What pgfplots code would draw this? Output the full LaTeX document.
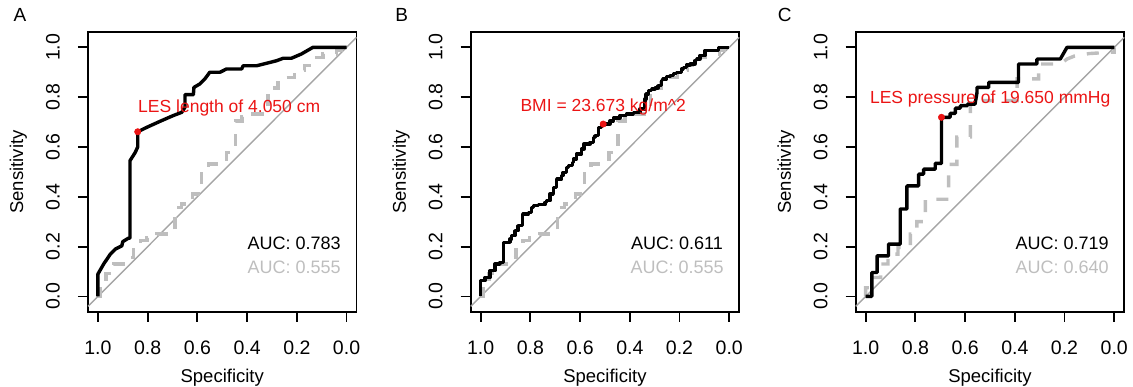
\documentclass[border=0pt]{standalone}
\usepackage{pgfplots}
\pgfplotsset{compat=1.18}
\usepackage{fontspec}
\setmainfont{Liberation Sans}
\definecolor{rgray}{RGB}{190,190,190}
\definecolor{dgray}{RGB}{165,165,165}
\definecolor{rred}{RGB}{235,20,20}

\pgfplotsset{every axis/.append style={line width=1.8pt}}
\pgfplotsset{rocax/.style={
  scale only axis, width=268.5pt, height=280pt,
  x dir=reverse, xmin=-0.04, xmax=1.04, ymin=-0.0625, ymax=1.0615,
  xtick={0,0.2,0.4,0.6,0.8,1}, ytick={0,0.2,0.4,0.6,0.8,1},
  tick align=outside, tick pos=left, major tick length=10pt,
  xtick style={draw=black, line width=1.8pt}, ytick style={draw=black, line width=1.8pt},
  tick label style={font=\fontsize{19.5}{21}\selectfont,
    /pgf/number format/assume math mode=true,
    /pgf/number format/fixed, /pgf/number format/fixed zerofill, /pgf/number format/precision=1},
  xticklabel style={anchor=center, yshift=-26pt},
  yticklabel style={xshift=-25pt, rotate=90, anchor=center},
  label style={font=\fontsize{18.5}{20}\selectfont},
  xlabel={Specificity}, ylabel={Sensitivity},
  xlabel style={at={(axis description cs:0.5,-0.235)}, anchor=center},
  ylabel style={at={(axis description cs:-0.259,0.5)}, anchor=center},
  clip=false,
}}
\pgfplotsset{diag/.style={dgray, line width=1.4pt},
  grayc/.style={rgray, line width=3.4pt, dash pattern=on 12pt off 12pt},
  blackc/.style={black, line width=3.4pt, line join=round},
  thr/.style={only marks, mark=*, mark size=3.2pt, rred, mark options={draw=rred, fill=rred, line width=0.5pt}}}
\newcommand{\rticks}{%
  \pgfplotsinvokeforeach{0,0.2,0.4,0.6,0.8,1}{%
    \draw[black, line width=1.8pt] (axis cs:##1,-0.0625) -- ++(0pt,-10pt);
    \draw[black, line width=1.8pt] (axis cs:1.04,##1) -- ++(-10pt,0pt);}}

\begin{document}
\begin{tikzpicture}
\path[use as bounding box] (0,0) rectangle (1133pt,387pt);

% ---------------- A ----------------
\begin{axis}[rocax, at={(88pt,75pt)}, anchor=south west]
\addplot[diag] coordinates {(1.04,-0.04) (-0.04,1.04)};
\addplot[grayc] coordinates {
(1,0) (0.99,0) (0.99,0.06) (0.967,0.06) (0.967,0.092) (0.937,0.092) (0.937,0.13)
(0.897,0.13) (0.897,0.157) (0.857,0.157) (0.857,0.2) (0.83,0.2) (0.83,0.224)
(0.803,0.224) (0.803,0.235) (0.763,0.235) (0.763,0.25) (0.69,0.25) (0.69,0.357)
(0.663,0.357) (0.663,0.371) (0.619,0.371) (0.619,0.411) (0.583,0.411) (0.583,0.505)
(0.556,0.505) (0.556,0.531) (0.483,0.531) (0.483,0.578) (0.447,0.578) (0.447,0.705)
(0.42,0.705) (0.42,0.72) (0.376,0.72) (0.376,0.732) (0.316,0.732) (0.316,0.837)
(0.275,0.837) (0.275,0.859) (0.249,0.859) (0.249,0.88) (0.209,0.88) (0.209,0.906)
(0.168,0.906) (0.168,0.926) (0.128,0.926) (0.128,0.96) (0.095,0.96) (0.095,0.973)
(0.04,0.973) (0.04,0.99) (0,0.99) (0,1)};
\addplot[blackc] coordinates {
(1.0,0) (1.0,0.09) (0.977,0.13) (0.95,0.17) (0.93,0.19) (0.904,0.203) (0.90,0.22)
(0.877,0.234) (0.871,0.234) (0.871,0.545) (0.85,0.578) (0.84,0.60) (0.84,0.661)
(0.803,0.679) (0.75,0.703) (0.697,0.726) (0.663,0.739) (0.65,0.759) (0.65,0.81)
(0.616,0.81) (0.614,0.839) (0.59,0.853) (0.57,0.873) (0.55,0.9) (0.509,0.9)
(0.483,0.913) (0.422,0.913) (0.416,0.926) (0.362,0.926) (0.282,0.946) (0.255,0.956)
(0.222,0.956) (0.182,0.973) (0.135,1.0) (0,1)};
\addplot[thr] coordinates {(0.84,0.661)};
\rticks
\node[rred, font=\fontsize{17.5}{20}\selectfont] at (axis cs:0.472,0.757) {LES length of 4.050 cm};
\node[font=\fontsize{18}{20}\selectfont] at (axis cs:0.211,0.214) {AUC: 0.783};
\node[rgray, font=\fontsize{18}{20}\selectfont] at (axis cs:0.211,0.116) {AUC: 0.555};
\node[font=\fontsize{19}{20}\selectfont] at (axis description cs:-0.253,1.061) {A};
\end{axis}

% ---------------- B ----------------
\begin{axis}[rocax, at={(470.7pt,75pt)}, anchor=south west]
\addplot[diag] coordinates {(1.04,-0.04) (-0.04,1.04)};
\addplot[grayc] coordinates {
(1,0) (0.99,0) (0.99,0.06) (0.967,0.06) (0.967,0.092) (0.937,0.092) (0.937,0.13)
(0.897,0.13) (0.897,0.157) (0.857,0.157) (0.857,0.2) (0.83,0.2) (0.83,0.224)
(0.803,0.224) (0.803,0.235) (0.763,0.235) (0.763,0.25) (0.69,0.25) (0.69,0.357)
(0.663,0.357) (0.663,0.371) (0.619,0.371) (0.619,0.411) (0.583,0.411) (0.583,0.505)
(0.556,0.505) (0.556,0.531) (0.483,0.531) (0.483,0.578) (0.447,0.578) (0.447,0.705)
(0.42,0.705) (0.42,0.72) (0.376,0.72) (0.376,0.732) (0.316,0.732) (0.316,0.837)
(0.275,0.837) (0.275,0.859) (0.249,0.859) (0.249,0.88) (0.209,0.88) (0.209,0.906)
(0.168,0.906) (0.168,0.926) (0.128,0.926) (0.128,0.96) (0.095,0.96) (0.095,0.973)
(0.04,0.973) (0.04,0.99) (0,0.99) (0,1)};
\addplot[blackc, const plot mark right] coordinates {
(1.0,0) (1.0,0.056) (0.983,0.063) (0.983,0.076) (0.962,0.076) (0.962,0.090) (0.942,0.103)
(0.942,0.116) (0.922,0.130) (0.909,0.137) (0.909,0.217) (0.882,0.217) (0.875,0.230)
(0.862,0.244) (0.862,0.264) (0.849,0.264) (0.849,0.284) (0.831,0.284) (0.831,0.324)
(0.808,0.331) (0.795,0.337) (0.788,0.357) (0.768,0.364) (0.741,0.368) (0.735,0.378)
(0.721,0.384) (0.721,0.404) (0.708,0.411) (0.708,0.431) (0.694,0.438) (0.694,0.465)
(0.674,0.471) (0.668,0.485) (0.654,0.498) (0.647,0.518) (0.630,0.525) (0.627,0.538)
(0.614,0.552) (0.614,0.565) (0.594,0.572) (0.584,0.592) (0.574,0.612) (0.560,0.612)
(0.547,0.618) (0.540,0.639) (0.527,0.645) (0.527,0.672) (0.513,0.679) (0.507,0.692)
(0.480,0.692) (0.466,0.705) (0.440,0.716) (0.413,0.726) (0.386,0.732) (0.359,0.739)
(0.339,0.752) (0.335,0.792) (0.326,0.813) (0.312,0.826) (0.299,0.833) (0.286,0.837)
(0.272,0.846) (0.268,0.866) (0.252,0.873) (0.239,0.882) (0.225,0.886) (0.212,0.896)
(0.192,0.90) (0.185,0.913) (0.172,0.920) (0.158,0.929) (0.138,0.933) (0.131,0.946)
(0.118,0.953) (0.098,0.967) (0.094,0.987) (0.044,0.987) (0.044,1) (0,1)};
\addplot[thr] coordinates {(0.507,0.692)};
\rticks
\node[rred, font=\fontsize{17.5}{20}\selectfont] at (axis cs:0.507,0.762) {BMI = 23.673 kg/m\textasciicircum{}2};
\node[font=\fontsize{18}{20}\selectfont] at (axis cs:0.21,0.214) {AUC: 0.611};
\node[rgray, font=\fontsize{18}{20}\selectfont] at (axis cs:0.21,0.116) {AUC: 0.555};
\node[font=\fontsize{19}{20}\selectfont] at (axis description cs:-0.257,1.061) {B};
\end{axis}

% ---------------- C ----------------
\begin{axis}[rocax, at={(855.7pt,75pt)}, anchor=south west]
\addplot[diag] coordinates {(1.04,-0.04) (-0.04,1.04)};
\addplot[grayc] coordinates {
(1,0) (1,0.035) (0.975,0.035) (0.975,0.076) (0.94,0.076) (0.94,0.13) (0.91,0.13)
(0.91,0.17) (0.87,0.17) (0.87,0.197) (0.82,0.197) (0.82,0.25) (0.794,0.25) (0.794,0.30)
(0.76,0.30) (0.76,0.39) (0.666,0.39) (0.666,0.53) (0.633,0.53) (0.633,0.64) (0.579,0.64)
(0.579,0.786) (0.391,0.786) (0.391,0.873) (0.304,0.873) (0.304,0.933) (0.217,0.933)
(0.19,0.953) (0.16,0.965) (0.10,0.975) (0.02,0.98) (0,0.98) (0,1)};
\addplot[blackc] coordinates {
(1.0,0) (0.975,0) (0.975,0.096) (0.954,0.096) (0.954,0.163) (0.908,0.163) (0.908,0.210)
(0.861,0.210) (0.861,0.351) (0.834,0.351) (0.834,0.444) (0.787,0.444) (0.787,0.491)
(0.767,0.491) (0.767,0.511) (0.720,0.511) (0.720,0.534) (0.695,0.534) (0.695,0.719)
(0.660,0.719) (0.660,0.735) (0.639,0.735) (0.639,0.756) (0.619,0.756) (0.619,0.766)
(0.59,0.766) (0.59,0.772) (0.56,0.772) (0.552,0.819) (0.552,0.839) (0.505,0.839)
(0.505,0.859) (0.385,0.859) (0.385,0.933) (0.311,0.933) (0.311,0.953) (0.217,0.953)
(0.190,1) (0,1)};
\addplot[thr] coordinates {(0.695,0.719)};
\rticks
\node[rred, font=\fontsize{17.5}{20}\selectfont] at (axis cs:0.499,0.793) {LES pressure of 19.650 mmHg};
\node[font=\fontsize{18}{20}\selectfont] at (axis cs:0.21,0.214) {AUC: 0.719};
\node[rgray, font=\fontsize{18}{20}\selectfont] at (axis cs:0.21,0.116) {AUC: 0.640};
\node[font=\fontsize{19}{20}\selectfont] at (axis description cs:-0.264,1.061) {C};
\end{axis}
\end{tikzpicture}
\end{document}
